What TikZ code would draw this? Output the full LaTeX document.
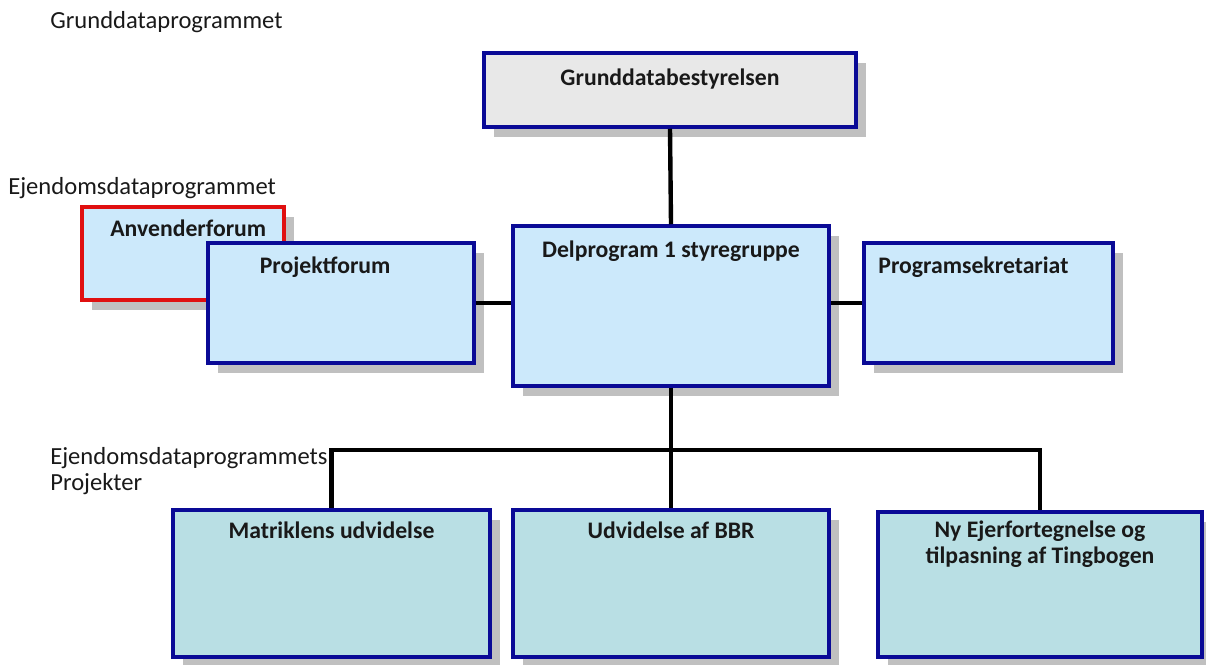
\documentclass[tikz,border=0pt]{standalone}
\usepackage{fontspec}
\setmainfont{Carlito}
\usetikzlibrary{positioning,shadows}
\definecolor{cframe}{HTML}{0A0A96}
\definecolor{cred}{HTML}{E01010}
\definecolor{cpale}{HTML}{CCE9FB}
\definecolor{cteal}{HTML}{B9DFE4}
\definecolor{cgreyb}{HTML}{E8E8E8}
\definecolor{cshade}{HTML}{C0C0C0}
\tikzset{
  orgbox/.style={draw=cframe, line width=2pt, fill=cpale, inner sep=0pt,
    drop shadow={shadow xshift=5.7pt, shadow yshift=-5.7pt, fill=cshade, opacity=1}},
  size/.style 2 args={minimum width=#1*0.02cm, minimum height=#2*0.02cm},
  topbox/.style={orgbox, fill=cgreyb},
  userbox/.style={orgbox, draw=cred, line width=2.4pt},
  projbox/.style={orgbox, fill=cteal},
  title/.style={font=\fontsize{13.5}{14.5}\selectfont\bfseries, text=black!90, inner sep=0pt, align=center},
  lbl/.style={font=\fontsize{14}{15}\selectfont, text=black!90, inner sep=0pt, align=left},
  conn/.style={line width=2.5pt, black},
}
\begin{document}
\begin{tikzpicture}[x=0.02cm,y=-0.02cm]
\useasboundingbox (0,0) rectangle (1206,665);
% free labels
\node[lbl, anchor=west] (lprog) at (50,22) {Grunddataprogrammet};
\node[lbl, anchor=west] (lejd) at (8,188) {Ejendomsdataprogrammet};
\node[lbl, anchor=west] (lproj) at (50,471) {Ejendomsdataprogrammets\\Projekter};
% boxes
\node[topbox, size={372}{74}] (gbest) at (670,90) {};
\node[title, below=10pt of gbest.north] (tgbest) {Grunddatabestyrelsen};
\node[userbox, size={202}{93}] (anvf) at (183,253.5) {};
\node[title, below=8.5pt of anvf.north, xshift=3pt] (tanvf) {Anvenderforum};
\node[orgbox, size={266}{120}] (projf) at (341,303) {};
\node[title, below=8.5pt of projf.north, xshift=-9pt] (tprojf) {Projektforum};
\node[orgbox, size={316}{160}] (deler) at (671,306) {};
\node[title, below=9.5pt of deler.north] (tdeler) {Delprogram 1 styregruppe};
\node[orgbox, size={249}{120}] (sekr) at (988.5,303) {};
\node[title, anchor=north west] (tsekr) at ([xshift=9pt,yshift=-8.5pt]sekr.north west) {Programsekretariat};
\node[projbox, size={317}{147}] (matr) at (331.5,583.5) {};
\node[title, below=7.5pt of matr.north] (tmatr) {Matriklens udvidelse};
\node[projbox, size={316}{147}] (bbr) at (671,583.5) {};
\node[title, below=7.5pt of bbr.north] (tbbr) {Udvidelse af BBR};
\node[projbox, size={324}{145}] (ejer) at (1040,584.5) {};
\node[title, below=6pt of ejer.north] (tejer) {Ny Ejerfortegnelse og\\tilpasning af Tingbogen};
% connectors
\coordinate (bar) at (671,450);
\draw[conn] (gbest.south) -- (deler.north);
\draw[conn] (projf.east) -- (projf.east -| deler.west);
\draw[conn] (sekr.west) -- (sekr.west -| deler.east);
\draw[conn] (deler.south) -- (bbr.north);
\draw[conn] (matr.north) |- (bar) -| (ejer.north);
\end{tikzpicture}
\end{document}
